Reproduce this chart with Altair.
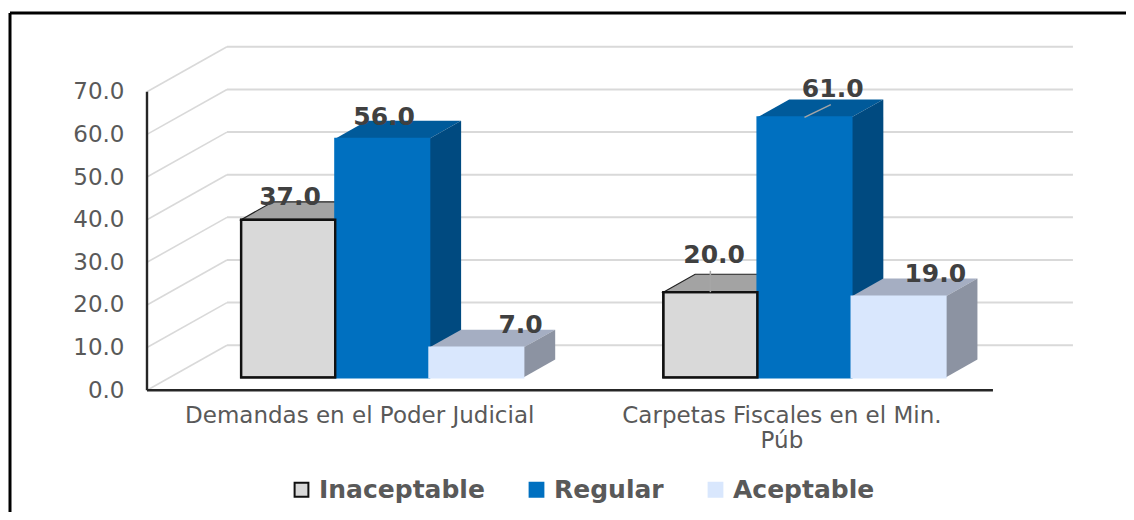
import altair as alt
import pandas as pd

# ---- values
categories = ["Demandas en el Poder Judicial", "Carpetas Fiscales en el Min. Púb"]
series = ["Inaceptable", "Regular", "Aceptable"]
inaceptable = [37.0, 20.0]
regular = [56.0, 61.0]
aceptable = [7.0, 19.0]
y_ticks = [0, 10, 20, 30, 40, 50, 60, 70]

# ---- styling / layout
W, H = 1118, 504
PX_X, PX_Y = 94.1, 4.263          # px per bar width, px per value unit
X0_PAGE, Y0_PAGE = 147, 390.2     # where the axes cross, on the page
group_left = [1.0, 5.487]
DX, DY = 0.338, 4.2               # depth of the bars
WALL_DX, WALL_DY = 0.85, 10.55    # depth of the walls
BASE = 3.0                        # bar floor above the axis line
GRID_END, AXIS_END = 9.84, 8.99
front_fill = ["#D9D9D9", "#0070C0", "#D9E7FD"]
front_stroke = ["#111111", "#0070C0", "#D9E7FD"]
top_fill = ["#A3A3A3", "#005A9A", "#A5AEC2"]
side_fill = ["#8C8C8C", "#004A80", "#8C93A2"]
label_nudge = [[(0.02, 5.3), (0.04, 8.6)], [(0.02, 5.2), (0.3, 6.6)], [(0.47, 5.4), (0.39, 5.3)]]
leaders = [(1, 0, 0.0, 0.0, 5.0), (1, 1, 0.0, 0.28, 3.0)]  # (group, series, x offset, dx, dy)
FONT = "DejaVu Sans"

x_scale = alt.Scale(domain=[(8 - X0_PAGE) / PX_X, (8 + W - X0_PAGE) / PX_X], nice=False, zero=False)
y_scale = alt.Scale(domain=[(Y0_PAGE - 8 - H) / PX_Y, (Y0_PAGE - 8) / PX_Y], nice=False, zero=False)

values = [inaceptable, regular, aceptable]
group_center = [g + 1.5 for g in group_left]
cat_label_x = [c - 0.245 for c in group_center]

x_axis = alt.Axis(
    values=cat_label_x, domain=False, ticks=False, grid=False,
    labelExpr="datum.value < 3 ? '%s' : ['Carpetas Fiscales en el Min.', 'Púb']" % categories[0],
    labelFont=FONT, labelFontSize=23, labelColor="#595959", labelLimit=800,
    labelOverlap=False, labelLineHeight=25, labelPadding=14,
    offset=-(8 + H - Y0_PAGE))
y_axis = alt.Axis(
    values=y_ticks, format=".1f", domain=False, ticks=False, grid=False,
    labelFont=FONT, labelFontSize=23, labelColor="#595959", labelPadding=23,
    offset=-(X0_PAGE - 8))
X = alt.X("x:Q", scale=x_scale, axis=x_axis, title=None)
Y = alt.Y("y:Q", scale=y_scale, axis=y_axis, title=None)
X2, Y2 = alt.X2("x2:Q"), alt.Y2("y2:Q")

layers = []

# back wall grid and left wall diagonals
grid_df = pd.DataFrame({"x": [WALL_DX] * 8, "x2": [GRID_END] * 8,
                        "y": [t + WALL_DY for t in y_ticks], "y2": [t + WALL_DY for t in y_ticks]})
layers.append(alt.Chart(grid_df).mark_rule(color="#D9D9D9", strokeWidth=2).encode(x=X, x2=X2, y=Y, y2=Y2))
diag_df = pd.DataFrame({"x": [0.0] * 8, "x2": [WALL_DX] * 8,
                        "y": [float(t) for t in y_ticks], "y2": [t + WALL_DY for t in y_ticks]})
layers.append(alt.Chart(diag_df).mark_rule(color="#D9D9D9", strokeWidth=1.6).encode(x=X, x2=X2, y=Y, y2=Y2))

# axis lines
axes_df = pd.DataFrame({"x": [0.0, 0.0], "x2": [0.0, AXIS_END], "y": [0.0, 0.0], "y2": [70.0, 0.0]})
layers.append(alt.Chart(axes_df).mark_rule(color="#262626", strokeWidth=2.4).encode(x=X, x2=X2, y=Y, y2=Y2))

legend_spec = dict(orient="none", legendX=281, legendY=469, direction="horizontal",
                   symbolType="square", symbolSize=190, symbolStrokeWidth=2,
                   labelFont=FONT, labelFontSize=25, labelFontWeight="bold",
                   labelColor="#595959", labelLimit=400, columnPadding=39, labelOffset=5)

# bars, left to right so each front hides what is behind it
outline_rows = None
for s, name in enumerate(series):
    top_rows, side_rows, front_rows = [], [], []
    for g, left in enumerate(group_left):
        v = BASE + values[s][g]
        l, r = left + s, left + s + 1
        top_rows.append(pd.DataFrame({"g": g, "x": [l, l + DX, r, r + DX],
                                      "y": [v, v + DY, v + DY, v + DY], "y2": [v, v, v, v + DY]}))
        side_rows.append(pd.DataFrame({"g": g, "x": [r, r + DX],
                                       "y": [v, v + DY], "y2": [BASE, BASE + DY]}))
        front_rows.append({"x": l, "x2": r, "y": BASE, "y2": v, "series": name})
    stroke = {"stroke": "#222222", "strokeWidth": 1.2} if s == 0 else {}
    layers.append(alt.Chart(pd.concat(top_rows)).mark_area(fill=top_fill[s], orient="vertical", **stroke)
                  .encode(x=X, y=Y, y2=Y2, detail="g:N"))
    layers.append(alt.Chart(pd.concat(side_rows)).mark_area(fill=side_fill[s], orient="vertical")
                  .encode(x=X, y=Y, y2=Y2, detail="g:N"))
    layers.append(alt.Chart(pd.DataFrame(front_rows)).mark_bar(strokeWidth=2).encode(
        x=X, x2=X2, y=Y, y2=Y2,
        fill=alt.Fill("series:N", title=None, scale=alt.Scale(domain=series, range=front_fill),
                      legend=alt.Legend(**legend_spec)),
        stroke=alt.Stroke("series:N", title=None, scale=alt.Scale(domain=series, range=front_stroke),
                          legend=alt.Legend(**legend_spec)),
    ))
    if s == 0:
        outline_rows = front_rows
    if s == 1:
        # the black outline of the first bar stays visible over its blue neighbour
        layers.append(alt.Chart(pd.DataFrame(outline_rows)).mark_bar(
            filled=False, stroke="#111111", strokeWidth=2.4
        ).encode(x=X, x2=X2, y=Y, y2=Y2))

# leader lines
lead_rows = []
for g, s, ox, dx, dy in leaders:
    c = group_left[g] + s + 0.5 + ox
    v = BASE + values[s][g]
    lead_rows.append({"x": c, "x2": c + dx, "y": v, "y2": v + dy})
layers.append(alt.Chart(pd.DataFrame(lead_rows)).mark_rule(color="#A6A6A6", strokeWidth=1.5)
              .encode(x=X, x2=X2, y=Y, y2=Y2))

# data labels
label_rows = []
for s in range(3):
    for g, left in enumerate(group_left):
        nx, ny = label_nudge[s][g]
        label_rows.append({"x": left + s + 0.5 + nx, "y": BASE + values[s][g] + ny, "v": values[s][g]})
layers.append(alt.Chart(pd.DataFrame(label_rows)).mark_text(
    font=FONT, fontSize=25, fontWeight="bold", color="#404040", align="center", baseline="middle"
).encode(x=X, y=Y, text=alt.Text("v:Q", format=".1f")))

# outer frame, cut off by the picture on the right and at the bottom
layers.append(alt.Chart(pd.DataFrame({"a": [0]})).mark_rule(color="#000000", strokeWidth=3)
              .encode(x=alt.value(2), y=alt.value(5), y2=alt.value(H)))
layers.append(alt.Chart(pd.DataFrame({"a": [0]})).mark_rule(color="#000000", strokeWidth=3)
              .encode(x=alt.value(2), x2=alt.value(W), y=alt.value(5)))

chart = alt.layer(*layers).resolve_scale(x="shared", y="shared").properties(
    width=W, height=H, padding=0, autosize=alt.AutoSizeParams(type="none"),
    background="#FFFFFF",
).configure_view(stroke=None)

chart.save("out.html", embed_options={"renderer": "svg", "actions": False})
